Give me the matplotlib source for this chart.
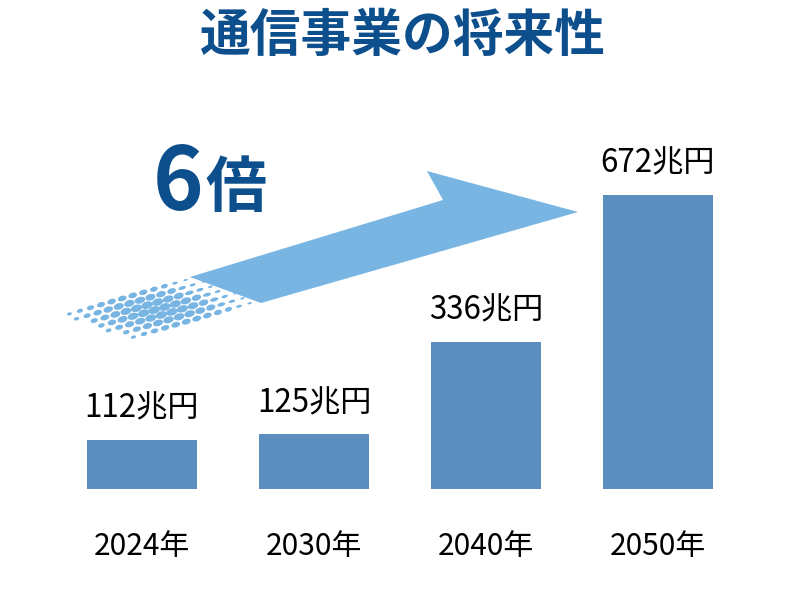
import numpy as np
import matplotlib
matplotlib.use("Agg")
import matplotlib.pyplot as plt
from matplotlib.patches import Polygon, Ellipse

plt.rcParams['font.family'] = ['Noto Sans CJK JP', 'DejaVu Sans']

# ---- data ----
years = ["2024年", "2030年", "2040年", "2050年"]
values = [112, 125, 336, 672]
unit = "兆円"
title = "通信事業の将来性"
multiple_num = "6"
multiple_unit = "倍"

BAR_COLOR = "#5b8ebe"
ARROW_COLOR = "#78b5e2"
TITLE_COLOR = "#0d4f8c"

W, H = 800, 598
fig = plt.figure(figsize=(W / 100, H / 100), dpi=100)
fig.patch.set_facecolor("white")

# ---- overlay axes in pixel coordinates (decoration) ----
ov = fig.add_axes([0, 0, 1, 1])
ov.set_xlim(0, W)
ov.set_ylim(H, 0)
ov.axis("off")
ov.set_zorder(0)

# arrow (solid part)
arrow_pts = [(578, 212), (427, 171), (443, 200), (190, 277), (261, 303)]
ov.add_patch(Polygon(arrow_pts, closed=True, facecolor=ARROW_COLOR,
                     edgecolor="none"))

# halftone dots trailing the arrow
P0 = np.array([261.0, 303.0])
d_left = np.array([-0.960, 0.280])
n_up = np.array([-0.280, -0.960])
band = 45.5
bdir = np.array([72.0, 26.0]) / np.hypot(72, 26)
fade = 80.0
angle = -np.degrees(np.arctan2(0.280, 0.960))
for j in range(7):
    b = 3 + j * 6.7
    off = 5.5 if j % 2 else 0.0
    for k in range(-3, 30):
        a = off + k * 11.0
        p = P0 + a * d_left + b * n_up
        g = ((p[0] - 190) * bdir[1] - (p[1] - 277) * bdir[0])
        if g > 0 or g < -fade:
            continue
        t = (g + fade) / fade           # 0 far left, 1 at the solid part
        prof = np.sin(np.pi * min(t / 1.15 + 0.08, 1.0)) ** 0.6
        e = np.sin(np.pi * (b + 2) / (band + 4)) ** 0.5
        w = 12.0 * prof * (0.45 + 0.55 * e)
        if w < 1.8:
            continue
        ratio = 0.62 if t < 0.8 else 0.45
        ov.add_patch(Ellipse((p[0], p[1]), w, w * ratio, angle=angle,
                             facecolor=ARROW_COLOR, edgecolor="none"))

# "6倍"
ov.text(178, 210, multiple_num, fontsize=62, fontweight="bold",
        color=TITLE_COLOR, ha="center", va="baseline")
ov.text(236, 207, multiple_unit, fontsize=44, fontweight="bold",
        color=TITLE_COLOR, ha="center", va="baseline")

# title
fig.text(402 / W, 1 - 37 / H, title, fontsize=36.5, fontweight="bold",
         color=TITLE_COLOR, ha="center", va="center")

# ---- bar axes ----
ymax = 800
h_px = 294 * ymax / 672
ax = fig.add_axes([56 / W, (H - 489) / H, 688 / W, h_px / H])
ax.set_zorder(1)
ax.patch.set_alpha(0)
x = np.arange(len(years))
ax.bar(x, values, width=0.64, color=BAR_COLOR)
ax.set_xlim(-0.5, len(years) - 0.5)
ax.set_ylim(0, ymax)
for s in ax.spines.values():
    s.set_visible(False)
ax.set_yticks([])
ax.set_xticks(x)
ax.set_xticklabels(years, fontsize=21.5)
ax.tick_params(axis="x", length=0, pad=30)
for xi, v in zip(x, values):
    ax.annotate(f"{v}{unit}", (xi, v), xytext=(0, 11),
                textcoords="offset points", ha="center", va="bottom",
                fontsize=22.5, color="black", annotation_clip=False)

fig.savefig("out.png", dpi=100, facecolor="white")
